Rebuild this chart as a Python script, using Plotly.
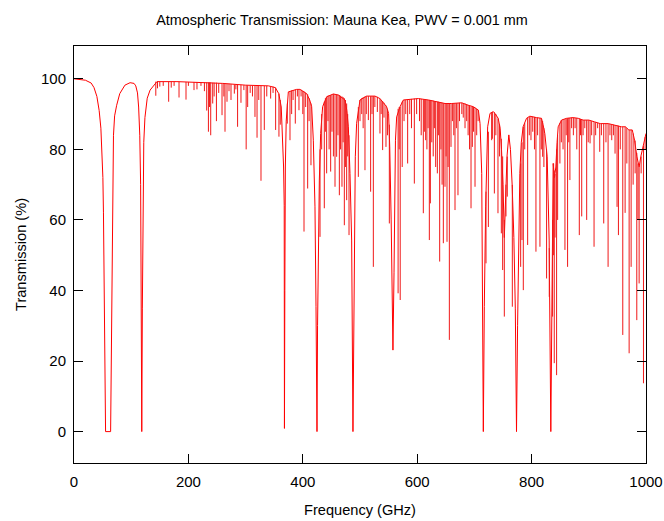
import plotly.graph_objects as go

# Broad envelope of the transmission curve (GHz, %)
env_freq = [0, 10, 20, 30, 35, 40, 44, 47, 49, 50.5, 51.5, 52.5, 53.5, 54.5, 55.2, 64, 64.8, 65.5, 66.5, 67.5,
            69, 71, 74.6, 80, 89, 98, 105, 108, 111, 113, 115, 116.5, 117.5, 118.5, 119.5, 120.5, 122, 124, 128, 133,
            140, 145, 180, 230, 260, 300, 340, 352, 358, 362.3, 364.7, 366.4, 367.5, 367.9, 368.6, 369.5, 371, 374.7,
            389.3, 395, 406.8, 412, 415.5, 418.4, 421.3, 423.1, 424.8, 425.8, 427.2, 428.9, 431.2, 434.7, 441.7, 453.4,
            462.1, 473.8, 477, 479.6, 482.5, 485.4, 487.7, 489.5, 491.8, 494.1, 500, 511.6, 526.2, 534.9, 540, 546.5,
            550, 552, 554.5, 556, 557.6, 559.5, 561, 562, 564.1, 570, 575.8, 584.5, 602, 619.5, 637, 648.6, 660.3,
            677.8, 689.4, 698.2, 707, 709.9, 712.8, 714.6, 715.6, 717.3, 719.7, 723.2, 727.3, 733.1, 735.8, 741.6,
            745, 747.4, 750, 752.3, 754.5, 757, 760.2, 763, 766, 769, 771.5, 773.6, 775.5, 777.5, 779.4, 782, 785.2,
            791.1, 796.9, 808.6, 817.3, 820, 823.1, 827.2, 830.7, 833.6, 835.2, 837.7, 840, 842.4, 844.5, 846.5, 852.3,
            861.1, 872.7, 881.5, 890, 900, 910, 920, 934, 945, 957, 964, 970, 976, 980, 984, 988, 991, 994, 997, 1000]
env_trans = [100, 99.9, 99.6, 98.8, 97.5, 95, 91, 86, 80, 72, 62, 45, 25, 5, 0, 0, 15, 35, 58, 73,
             84, 89.5, 92.5, 95.8, 98.2, 98.9, 98.7, 98, 96, 92, 84, 70, 45, 0, 35, 65, 82, 89, 94.5, 96.8,
             98.3, 99.2, 99.2, 99, 98.7, 98.2, 98, 97.5, 95.8, 92, 82.6, 75, 64, 0.9, 40, 75, 88, 96.3,
             97, 97, 95.8, 94, 92.1, 82.6, 63.7, 35.4, 0, 30, 54.3, 71.3, 84.5, 92.1, 94.9, 95.7,
             95.4, 94, 91, 86.4, 73.2, 54.3, 0, 44.9, 77.9, 87.4, 94, 95.1, 95.1, 94.4, 93.5, 92.1,
             90.2, 80.7, 60, 40, 23.1, 45, 70, 82.6, 89.2, 92.1, 94, 94.1, 94.4, 94, 93.5, 93, 93,
             93.2, 92.5, 92.1, 91.1, 87.3, 73.2, 35.4, 0, 35.4, 63.7, 86.4, 90.2, 90.7, 90.2, 88.8,
             86, 80, 70, 55, 68, 78, 84.1, 80, 70, 55, 35, 0, 30, 55, 73.2, 82, 86.4,
             88.8, 89.4, 89, 88.8, 87, 84.5, 77.9, 54.3, 0, 40, 76, 72, 75, 82, 86.4, 88.3,
             88.8, 89, 88.8, 88.3, 88.3, 87.8, 87.3, 87.3, 86.9, 86.4, 86.4, 85.5, 85.5, 82.6, 78, 75, 78, 80, 82.6, 84.5]

# Narrow absorption lines: centre (GHz), level at the line shoulder (%), line minimum (%)
line_freq = [143, 146, 150, 156, 165.5, 170, 175, 183.6, 195.8, 200, 209.8, 215, 222, 228, 232, 235, 237, 239,
             242.5, 245, 249, 253, 258.8, 262, 264, 267.5, 271, 274.5, 280.3, 283, 286, 291.9, 297, 301, 303.6, 308,
             312, 316.4, 320, 323, 326.9, 332.7, 337, 343.8, 348, 352.5, 358.3, 360.6,
             372.9, 377.6, 380.5, 383, 386.9, 390.5, 393.3, 397, 400, 402.1, 405, 408.5, 411, 414.3,
             430.1, 433, 437.6, 439.5, 441.7, 444, 446, 448.7, 451, 453.5, 456.3, 459.2, 461.5, 463.9, 466, 468.5,
             470.5, 472.6, 474.5, 476.7, 478.5, 480.8,
             497.1, 500, 503, 505.5, 508.7, 511, 514.6, 518.6, 521, 523.3, 526, 530.3, 534.9, 537, 539.6, 542, 545.4,
             548, 551.3,
             566.6, 568.5, 570.3, 573.8, 577, 580, 583.3, 587, 590, 595, 599, 604, 607, 610.7, 612.5, 614.8, 617, 619,
             621.2, 623, 625.5, 628, 630, 632.3, 635.2, 637, 639.3, 641.5, 643.5, 645.7, 648.6, 650.5, 652.1, 654,
             656.2, 659.1, 661.5, 664, 666.1, 668.5, 671.3, 674, 678, 680.5, 683.6, 686.5, 689, 691.5, 694.1, 696.4,
             698.5, 701.1, 704, 706.5,
             720.3, 724.4, 730.2, 731.4, 734.9, 737.5, 741.2, 744, 747.1, 749.4, 752.3, 755.2, 757.5, 766.3,
             780.9, 783.2, 785.5, 788, 793.1, 796, 798.9, 802, 805, 807.6, 810.5, 814.6, 817, 819.3, 821.5, 826.2, 830.9,
             836.7, 838.5, 839.6, 841, 843.7, 845.5, 849.5, 852, 855, 858.3, 860.5, 862.9, 865, 867, 870, 873, 876, 879,
             883.4, 885.5, 887.6, 890, 893, 896.3, 899, 902.2, 905, 909.2, 912, 915.5, 919.1, 922, 926.1, 930, 933.7,
             937, 940.1, 943, 945.9, 949.4, 951.8, 955, 959.4, 963.5, 966.5, 970.5, 974, 977.5, 981, 983.9, 986, 988,
             991.5, 995.6, 998.5]
line_top = [99.2, 99.2, 99.2, 99.2, 99.2, 99.2, 99.2, 99.2, 99.1, 99.1, 99.1, 99.1, 99, 99, 99, 99, 99, 99,
            98.9, 98.9, 98.9, 98.8, 98.7, 98.7, 98.7, 98.6, 98.6, 98.5, 98.4, 98.4, 98.4, 98.3, 98.2, 98.2, 98.2, 98.1,
            98.1, 98, 98, 98, 98, 98, 98, 97.9, 97.8, 97.5, 95.8, 94,
            93, 96.5, 96.7, 96.8, 96.9, 97, 97, 96.9, 96.6, 96.4, 96, 95.6, 94.5, 93,
            80, 90, 93.5, 94.5, 94.9, 95.2, 95.3, 95.4, 95.5, 95.7, 95.7, 95.6, 95.5, 95.4, 95.2, 95,
            94.8, 94.5, 94, 93, 90, 84,
            92, 94, 94.5, 94.8, 95, 95.1, 95.1, 95.1, 95.1, 95.1, 95.1, 94.9, 94.4, 94, 93.7, 93.2, 92.4,
            91.5, 87,
            91.5, 92, 92.1, 93.5, 94, 94, 94.1, 94.2, 94.3, 94.4, 94.4, 94.4, 94.3, 94.2, 94.2, 94.1, 94, 94,
            94, 94, 93.9, 93.8, 93.7, 93.6, 93.5, 93.5, 93.4, 93.3, 93.2, 93.1, 93, 93, 93, 93,
            93, 93, 93, 93, 93, 93.1, 93.1, 93.2, 93.2, 93.1, 93, 92.8, 92.6, 92.4, 92.2, 92.1,
            92, 91.8, 91.5, 91.2,
            68, 85, 90.5, 90.6, 90.5, 90, 88.8, 87, 83, 78, 60, 70, 78, 70,
            76, 82, 86.4, 87.5, 89, 89.3, 89.4, 89.3, 89.2, 89, 89, 88.9, 88.8, 88, 86, 80, 52,
            60, 76, 74, 73, 80, 84, 87.5, 88.3, 88.5, 88.6, 88.8, 88.8, 88.9, 88.9, 89, 89, 88.9, 88.9,
            88.7, 88.6, 88.5, 88.3, 88.3, 88.3, 88.3, 88.2, 88, 87.8, 87.7, 87.5, 87.3, 87.3, 87.3, 87.3, 87.3,
            87.2, 87, 87, 86.9, 86.8, 86.7, 86.5, 86.4, 86.4, 86, 85.5, 85.5, 84.5, 82.5, 79, 76, 75,
            78, 81, 83.5]
line_min = [95.2, 97.3, 97.8, 98, 93.5, 97.5, 98, 94.7, 94.1, 98, 96.8, 97, 98, 96.5, 91, 85, 92, 84,
            93, 95, 88, 96, 89.7, 95, 85, 93.5, 96.5, 94, 95.8, 97, 86.4, 93.2, 96.8, 80, 92, 96,
            95, 89.2, 83.3, 94, 71.1, 85.5, 95, 94.4, 96, 85.5, 83.6, 87,
            87.3, 82.6, 90, 94, 87.3, 95, 91.1, 95, 90, 56.7, 92, 68.9, 88, 75.5,
            55.2, 80, 63.3, 85, 73.2, 88, 80, 73.7, 85, 78, 69.4, 77.9, 84, 67, 80, 69.4,
            82, 58.5, 75, 65.6, 78, 55.7,
            72.2, 88, 90, 86, 74.1, 90, 88.3, 68, 90, 46.7, 92, 90.6, 84.5, 90, 79.8, 89, 80.7,
            84, 59,
            39.2, 80, 37.3, 75, 88, 90, 76, 90, 86, 70.3, 90, 88, 84, 61.9, 85, 82.6, 80, 86,
            54.3, 64.7, 82, 78, 86, 75, 73.2, 84, 48.2, 80, 70, 53.4, 69.4, 78, 53.8, 75,
            26, 80.7, 88, 84, 62.8, 86, 67, 88, 90, 89, 86, 88, 84, 80, 63.3, 80.7,
            85, 69.4, 84, 88,
            47.7, 58, 82.6, 83, 67.5, 84, 61.9, 78, 56.2, 45.8, 32.6, 61, 66.6, 35.4,
            46.7, 54.3, 40.1, 80, 52.9, 84, 82.6, 85, 80, 51, 84, 52.4, 80, 77.9, 75, 43.4, 38.2,
            32.6, 50, 19.4, 55, 16, 60, 76, 82, 80, 51.5, 84, 46.7, 82, 71.3, 86, 84, 86, 80,
            55.7, 84, 61, 84, 86, 60, 82, 81.7, 84, 52.4, 84, 86, 79.3, 84, 59, 82, 46.7,
            84, 82.6, 84, 78.8, 63.7, 55.7, 80, 27.4, 62, 76, 22.2, 46.7, 70, 73.2, 31.6, 60, 42,
            73.2, 13.7, 79.8]

x_ticks = [0, 200, 400, 600, 800, 1000]
y_ticks = [0, 20, 40, 60, 80, 100]

# vertical line segments for the narrow lines
seg_x, seg_y = [], []
for f, t, b in zip(line_freq, line_top, line_min):
    seg_x += [f, f, None]
    seg_y += [t, b, None]

fig = go.Figure()
fig.add_trace(go.Scatter(x=env_freq, y=env_trans, mode="lines",
                         line=dict(color="#ff0000", width=1), showlegend=False, hoverinfo="skip"))
fig.add_trace(go.Scatter(x=seg_x, y=seg_y, mode="lines",
                         line=dict(color="#f01818", width=1), showlegend=False, hoverinfo="skip"))

font = "Liberation Sans, Arial, Helvetica, sans-serif"
fig.update_layout(
    width=664, height=521,
    margin=dict(l=74, r=18, t=46, b=58),
    paper_bgcolor="white", plot_bgcolor="white",
    font=dict(family=font, size=15, color="black"),
    title=dict(text="Atmospheric Transmission: Mauna Kea, PWV = 0.001 mm", x=342 / 664, xref="container",
               xanchor="center", y=1 - 20 / 521, yref="container", yanchor="middle", font=dict(size=14.4)),
    xaxis=dict(range=[0, 1000], tickvals=x_ticks, ticktext=[str(v) for v in x_ticks],
               ticks="inside", ticklen=9, tickcolor="black", showline=True, linecolor="black", linewidth=1,
               mirror="ticks", showgrid=False, zeroline=False, ticklabelstandoff=5, tickfont=dict(size=15),
               title=dict(text="Frequency (GHz)", standoff=15, font=dict(size=14.6)), automargin=False),
    yaxis=dict(range=[-8.9, 109.3], tickvals=y_ticks, ticktext=[str(v) for v in y_ticks],
               ticks="inside", ticklen=9, tickcolor="black", showline=True, linecolor="black", linewidth=1,
               mirror="ticks", showgrid=False, zeroline=False, ticklabelstandoff=4, tickfont=dict(size=15),
               title=dict(text="Transmission (%)", standoff=10, font=dict(size=14.6)), automargin=False),
)

fig.write_html("out.html", config={"displayModeBar": False},
               post_script="document.body.style.margin='0';document.body.style.overflow='hidden';")
